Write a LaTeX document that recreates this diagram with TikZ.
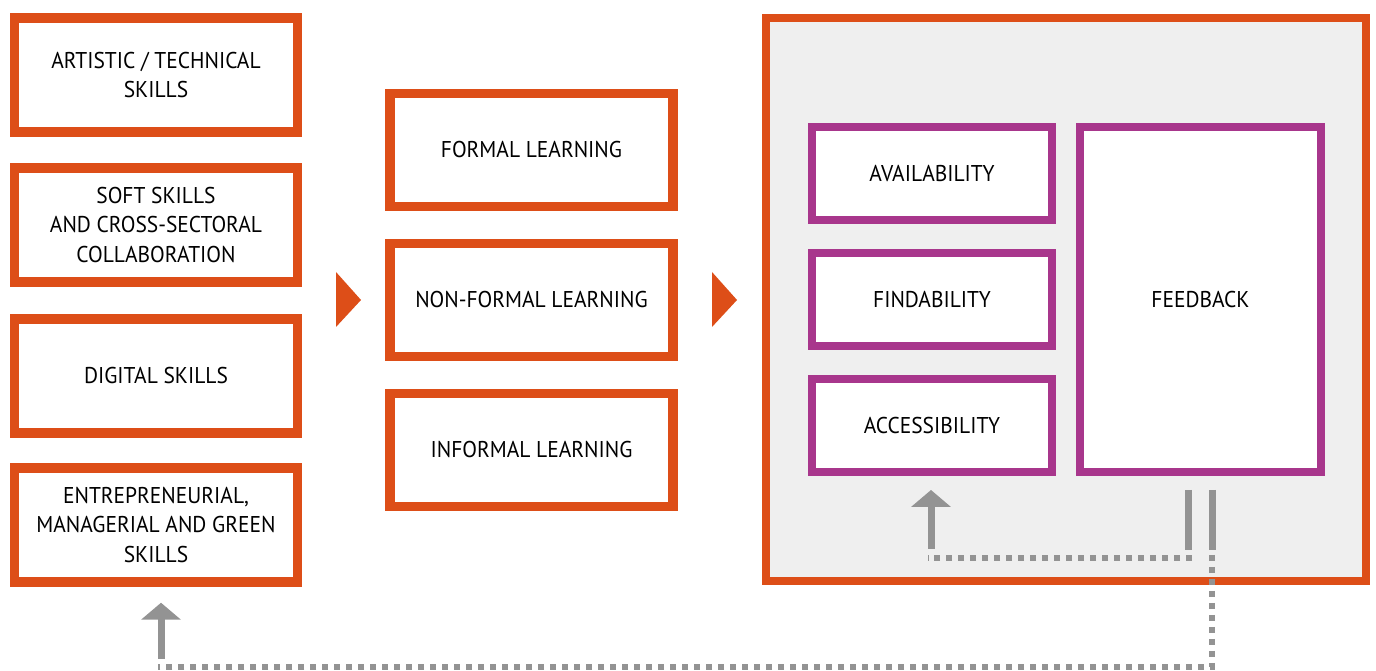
\documentclass[tikz,border=0pt]{standalone}
\usepackage{fontspec}
\setmainfont{PT Sans}[FakeStretch=0.94]
\usepackage{tikz}
\usetikzlibrary{arrows.meta}
\definecolor{euorange}{RGB}{221,78,24}
\definecolor{eupurple}{RGB}{168,54,140}
\definecolor{arrowgray}{RGB}{147,147,147}
\definecolor{panelgray}{RGB}{239,239,239}

\begin{document}
\begin{tikzpicture}[x=0.02cm, y=-0.02cm,
    every node/.style={font=\fontsize{13}{17}\selectfont, align=center},
    skillbox/.style={draw=euorange, line width=0.19cm, fill=white, minimum width=5.66cm, minimum height=2.28cm},
    learnbox/.style={draw=euorange, line width=0.19cm, fill=white, minimum width=5.66cm, minimum height=2.27cm},
    qualbox/.style={draw=eupurple, line width=0.16cm, fill=white, minimum width=4.8cm, minimum height=1.86cm},
    grayline/.style={draw=arrowgray, line width=0.14cm},
    grayarrow/.style={grayline, -{Triangle[width=0.78cm, length=0.34cm]}},
    graydots/.style={draw=arrowgray, line width=0.12cm, dash pattern=on 0.12cm off 0.12cm}]

    \useasboundingbox (0,0) rectangle (1376,671);

    % skills
    \node (sk1) at (156,75)  [skillbox] {ARTISTIC / TECHNICAL\\SKILLS};
    \node (sk2) at (156,225) [skillbox] {SOFT SKILLS\\AND CROSS-SECTORAL\\COLLABORATION};
    \node (sk3) at (156,376) [skillbox] {DIGITAL SKILLS};
    \node (sk4) at (156,525) [skillbox] {ENTREPRENEURIAL,\\MANAGERIAL AND GREEN\\SKILLS};

    % learning
    \node (ln1) at (531.5,150) [learnbox] {FORMAL LEARNING};
    \node (ln2) at (531.5,300) [learnbox] {NON-FORMAL LEARNING};
    \node (ln3) at (531.5,450) [learnbox] {INFORMAL LEARNING};

    \fill[euorange] (336,272) -- (361,300) -- (336,327) -- cycle;
    \fill[euorange] (712,272) -- (737,300) -- (712,327) -- cycle;

    % offer
    \node (offer) at (1066,299.5) [draw=euorange, line width=0.16cm, fill=panelgray,
          minimum width=12cm, minimum height=11.26cm] {};
    \node (avail)  at (932,173.5) [qualbox] {AVAILABILITY};
    \node (find)   at (932,299.5) [qualbox] {FINDABILITY};
    \node (access) at (932,425.5) [qualbox] {ACCESSIBILITY};
    \node (feed)   at (1200.5,299.5) [qualbox, minimum width=4.82cm, minimum height=6.9cm] {FEEDBACK};

    % feedback loops
    \coordinate (b1top) at (1188,490);
    \coordinate (b1bot) at (1188,550);
    \coordinate (b2top) at (1212,490);
    \coordinate (b2bot) at (1212,550);
    \coordinate (acfoot) at (931,549);
    \coordinate (skfoot) at (161,659);
    \draw[grayline] (b1top) -- (b1bot);
    \draw[grayline] (b2top) -- (b2bot);
    \draw[graydots] (1192,558) -- (928,558);
    \draw[graydots] (1212,555) -- (1212,667) -- (158,667);
    \draw[grayarrow, shorten >=0.28cm] (acfoot) -- (acfoot |- access.south);
    \draw[grayarrow, shorten >=0.32cm] (skfoot) -- (skfoot |- sk4.south);

\end{tikzpicture}
\end{document}
